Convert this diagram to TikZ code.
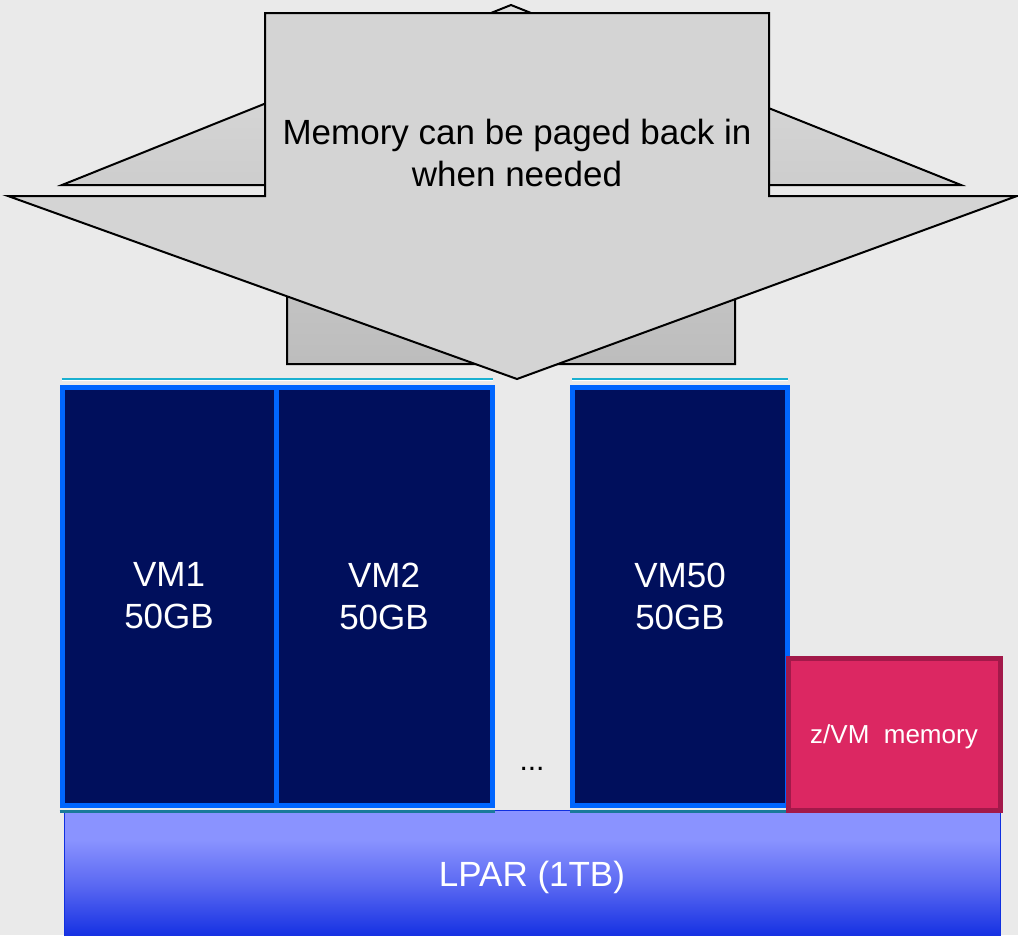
\documentclass[tikz,border=0pt]{standalone}
\usepackage{fontspec}
\setmainfont{Liberation Sans}
\usepackage{tikz}
\usetikzlibrary{positioning,calc}

\definecolor{bgcol}{HTML}{EAEAEA}
\definecolor{arrowgray}{HTML}{D4D4D4}
\definecolor{vmnavy}{HTML}{000F5C}
\definecolor{vmblue}{HTML}{0066FF}
\definecolor{vmcyan}{HTML}{1AB0D0}
\definecolor{vmteal}{HTML}{1A7A9A}
\definecolor{zvmred}{HTML}{DC2762}
\definecolor{zvmedge}{HTML}{A3194A}
\definecolor{lpartop}{HTML}{8A93FF}
\definecolor{lparmid}{HTML}{5A68F2}
\definecolor{lparbot}{HTML}{0A28E0}
\definecolor{lparedge}{HTML}{1030E0}

\pgfdeclareverticalshading{lparshade}{100bp}{color(0bp)=(lparbot); color(25bp)=(lparbot); color(47bp)=(lparmid); color(64bp)=(lpartop); color(100bp)=(lpartop)}

\begin{document}
\begin{tikzpicture}[x=1pt,y=-1pt,
  bigtext/.style={font=\fontsize{35}{42}\selectfont, align=center},
  vmbox/.style={draw=vmblue, line width=5pt, fill=vmnavy, text=white, bigtext, minimum height=418pt, inner sep=0pt},
  vmtopline/.style={vmcyan, line width=2pt},
  vmbottomline/.style={vmteal, line width=2.5pt},
  pagearrow/.style={draw=black, line width=2pt, line join=miter}]
\useasboundingbox (0,0) rectangle (1018,935);
\fill[bgcol] (0,0) rectangle (1018,935);

\draw[pagearrow, top color=gray!26, bottom color=gray!52] (511,5) -- (961,185) -- (735,185) -- (735,364) -- (287,364) -- (287,185) -- (62,185) -- cycle;
\draw[pagearrow, fill=arrowgray] (265,13) -- (769,13) -- (769,196) -- (1017,196) -- (517,379) -- (8,196) -- (265,196) -- cycle;
\node[bigtext] (paged) at (517,153) {Memory can be paged back in\\when needed};

\node[draw=lparedge, line width=1pt, shading=lparshade, minimum width=936pt, minimum height=134pt, inner sep=0pt, text=white, bigtext] (lpar) at (532,877) {LPAR (1TB)};

\node[vmbox, minimum width=214pt] (vm1) at (169,596) {VM1\\50GB};
\node[vmbox, minimum width=216pt] (vm2) at (384,596) {VM2\\50GB};
\node[vmbox, minimum width=215pt] (vm50) at (680,596) {VM50\\50GB};
\foreach \vm in {vm1,vm2,vm50}{
  \draw[vmtopline] ([shift={(2,-6)}]\vm.north west) -- ([shift={(-2,-6)}]\vm.north east);
  \draw[white, line width=1pt] ([shift={(2,-4)}]\vm.north west) -- ([shift={(-2,-4)}]\vm.north east);
  \draw[vmbottomline] ([shift={(0,4)}]\vm.south west) -- ([shift={(0,4)}]\vm.south east);
}

\node[font=\fontsize{30}{34}\selectfont] (dots) at (532,769) {...};

\node[draw=zvmedge, line width=5pt, fill=zvmred, text=white, font=\fontsize{26}{30}\selectfont, minimum width=212pt, minimum height=152pt, inner sep=0pt, text depth=0pt, text height=18pt] (zvm) at (894,734) {z/VM\ \ memory};
\end{tikzpicture}
\end{document}
